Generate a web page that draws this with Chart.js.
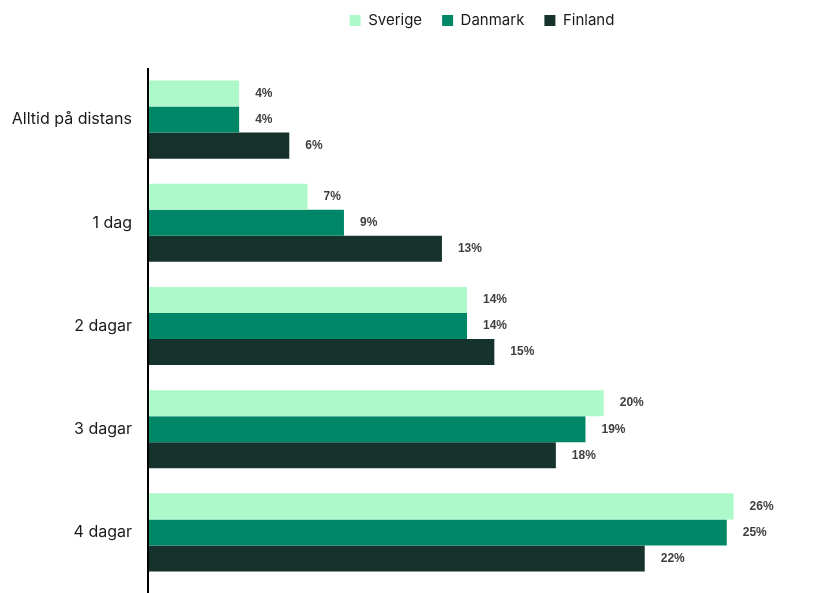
<!DOCTYPE html>
<html>
<head>
<meta charset="utf-8">
<script src="https://cdn.jsdelivr.net/npm/chart.js@4"></script>
<style>
  html, body { margin: 0; padding: 0; background: #fff; }
  #wrap { width: 821px; height: 593px; }
</style>
</head>
<body>
<div id="wrap"><canvas id="workChart"></canvas></div>
<script>
// Categories and shares (percent)
const categories = ['Alltid på distans', '1 dag', '2 dagar', '3 dagar', '4 dagar'];
const sverige = [4.0, 7.0, 14.0, 20.0, 25.7];
const danmark = [4.0, 8.6, 14.0, 19.2, 25.4];
const finland = [6.2, 12.9, 15.2, 17.9, 21.8];

const ctx = document.getElementById('workChart').getContext('2d');

// value labels to the right of each bar
const valueLabels = {
    id: 'valueLabels',
    afterDatasetsDraw(chart) {
        const c = chart.ctx;
        c.save();
        c.font = 'bold 12px "Liberation Sans", Arial, sans-serif';
        c.fillStyle = '#3f3f3f';
        c.textBaseline = 'middle';
        c.textAlign = 'left';
        chart.data.datasets.forEach((ds, i) => {
            chart.getDatasetMeta(i).data.forEach((bar, j) => {
                c.fillText(Math.round(ds.data[j]) + '%', bar.x + 16, bar.y);
            });
        });
        c.restore();
    }
};

// y axis line running to the bottom of the canvas
const axisLine = {
    id: 'axisLine',
    afterDatasetsDraw(chart) {
        const c = chart.ctx;
        const x = chart.chartArea.left;
        c.save();
        c.strokeStyle = '#000';
        c.lineWidth = 2;
        c.beginPath();
        c.moveTo(x, chart.chartArea.top);
        c.lineTo(x, chart.height);
        c.stroke();
        c.restore();
    }
};

// legend sizing and offset
const legendTweak = {
    id: 'legendTweak',
    beforeInit(chart) {
        const fit = chart.legend.fit;
        chart.legend.fit = function () {
            fit.bind(this)();
            this.height = 68;
        };
    },
    afterLayout(chart) {
        chart.legend.left += 89;
        chart.legend.right += 89;
        chart.legend.top -= 7;
        chart.legend.bottom -= 7;
    }
};

const workChart = new Chart(ctx, {
    type: 'bar',
    data: {
        labels: categories,
        datasets: [
            { label: 'Sverige', data: sverige, backgroundColor: '#adf9ca' },
            { label: 'Danmark', data: danmark, backgroundColor: '#008768' },
            { label: 'Finland', data: finland, backgroundColor: '#15322d' }
        ]
    },
    options: {
        indexAxis: 'y',
        responsive: true,
        maintainAspectRatio: false,
        animation: false,
        categoryPercentage: 0.757,
        barPercentage: 1.0,
        layout: {
            padding: { left: 0, right: 35, top: 0, bottom: 9 }
        },
        scales: {
            x: {
                display: false,
                min: 0,
                max: 28
            },
            y: {
                afterFit(scale) {
                    scale.width = 148;
                    scale.paddingTop = 0;
                    scale.paddingBottom = 0;
                },
                grid: { display: false, drawTicks: false },
                border: { display: false },
                ticks: {
                    padding: 16,
                    color: '#1a1a1a',
                    font: { family: 'Inter, "Liberation Sans", sans-serif', size: 16 }
                }
            }
        },
        plugins: {
            legend: {
                display: true,
                position: 'top',
                labels: {
                    boxWidth: 11,
                    boxHeight: 11,
                    padding: 20,
                    color: '#1a1a1a',
                    font: { family: 'Inter, "Liberation Sans", sans-serif', size: 15 }
                }
            },
            tooltip: { enabled: false }
        }
    },
    plugins: [valueLabels, axisLine, legendTweak]
});
</script>
</body>
</html>
